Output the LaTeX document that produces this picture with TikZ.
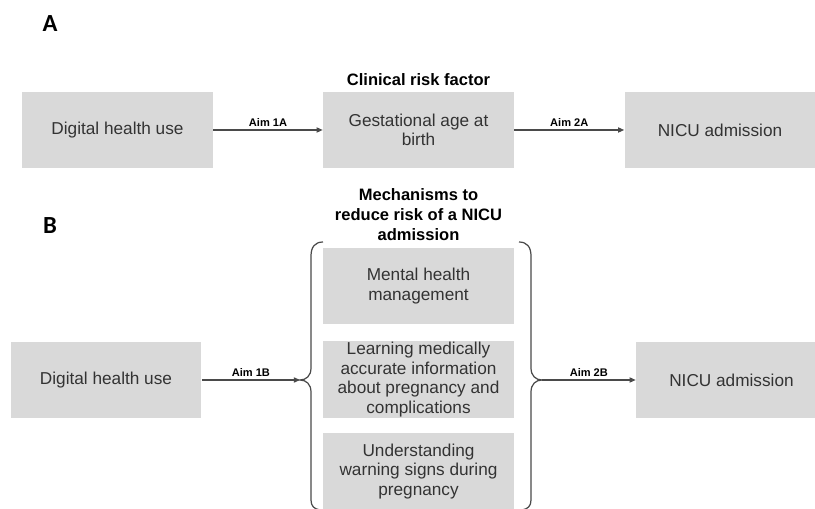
\documentclass[tikz,border=0pt]{standalone}
\usepackage{fontspec}
\setmainfont{Liberation Sans}
\newfontfamily\panelfont{Carlito}
\usepackage{tikz}
\usetikzlibrary{arrows.meta}

\definecolor{boxgray}{HTML}{D9D9D9}
\definecolor{textgray}{HTML}{333333}
\definecolor{linegray}{HTML}{4A4A4A}

\begin{document}
\begin{tikzpicture}[x=0.02cm, y=-0.02cm,
  box/.style={fill=boxgray, text=textgray, minimum width=3.82cm, minimum height=1.54cm,
    inner sep=0pt, align=center, font=\fontsize{9.8}{11.2}\selectfont},
  heading/.style={text=black, align=center, font=\fontsize{9.4}{11.2}\selectfont\bfseries},
  panel/.style={text=black, font=\panelfont\fontsize{14}{15}\selectfont\bfseries},
  aim/.style={linegray, line width=0.6pt, -{Triangle[length=3.5pt,width=3pt]}},
  aimlabel/.style={above, inner sep=1.5pt, text=black, font=\fontsize{6.3}{7}\selectfont\bfseries},
  brace/.style={linegray, line width=0.7pt}]
\useasboundingbox (0,0) rectangle (815,509);

% panel A
\node[panel] (labelA) at (50,24) {A};
\node[box] (digitalA) at (117.5,130) {Digital health use};
\node[box] (gestation) at (418.5,130) {Gestational age at\\birth};
\node[box] (nicuA) at (720,130) {NICU admission};
\node[heading] (clinical) at (418.5,80) {Clinical risk factor};
\draw[aim] (digitalA) -- node[aimlabel]{Aim 1A} (gestation);
\draw[aim] (gestation) -- node[aimlabel]{Aim 2A} (nicuA);

% panel B
\node[panel] (labelB) at (50,226) {B};
\node[heading] (mechanisms) at (418.5,214.5) {Mechanisms to\\reduce risk of a NICU\\admission};
\node[box] (digitalB) at (106,380) {Digital health use};
\node[box] (mental) at (418.5,286) {Mental health\\management};
\node[box] (learning) at (418.5,379.5) {Learning medically\\accurate information\\about pregnancy and\\complications};
\node[box] (warning) at (418.5,471.5) {Understanding\\warning signs during\\pregnancy};
\node[box] (nicuB) at (731.5,380) {NICU admission};

\coordinate (tipL) at (300,380);
\coordinate (tipR) at (542,380);
\draw[brace] (323,242) .. controls (315,242) and (311,247) .. (311,256) -- (311,368)
  .. controls (311,376) and (306,380) .. (tipL)
  .. controls (306,380) and (311,384) .. (311,392) -- (311,500)
  .. controls (311,506) and (314,509) .. (320,510);
\draw[brace] (519,242) .. controls (527,242) and (531,247) .. (531,256) -- (531,368)
  .. controls (531,376) and (536,380) .. (tipR)
  .. controls (536,380) and (531,384) .. (531,392) -- (531,500)
  .. controls (531,506) and (528,509) .. (522,510);
\draw[aim] (digitalB) -- node[aimlabel]{Aim 1B} (tipL);
\draw[aim] (tipR) -- node[aimlabel]{Aim 2B} (nicuB);

\end{tikzpicture}
\end{document}
